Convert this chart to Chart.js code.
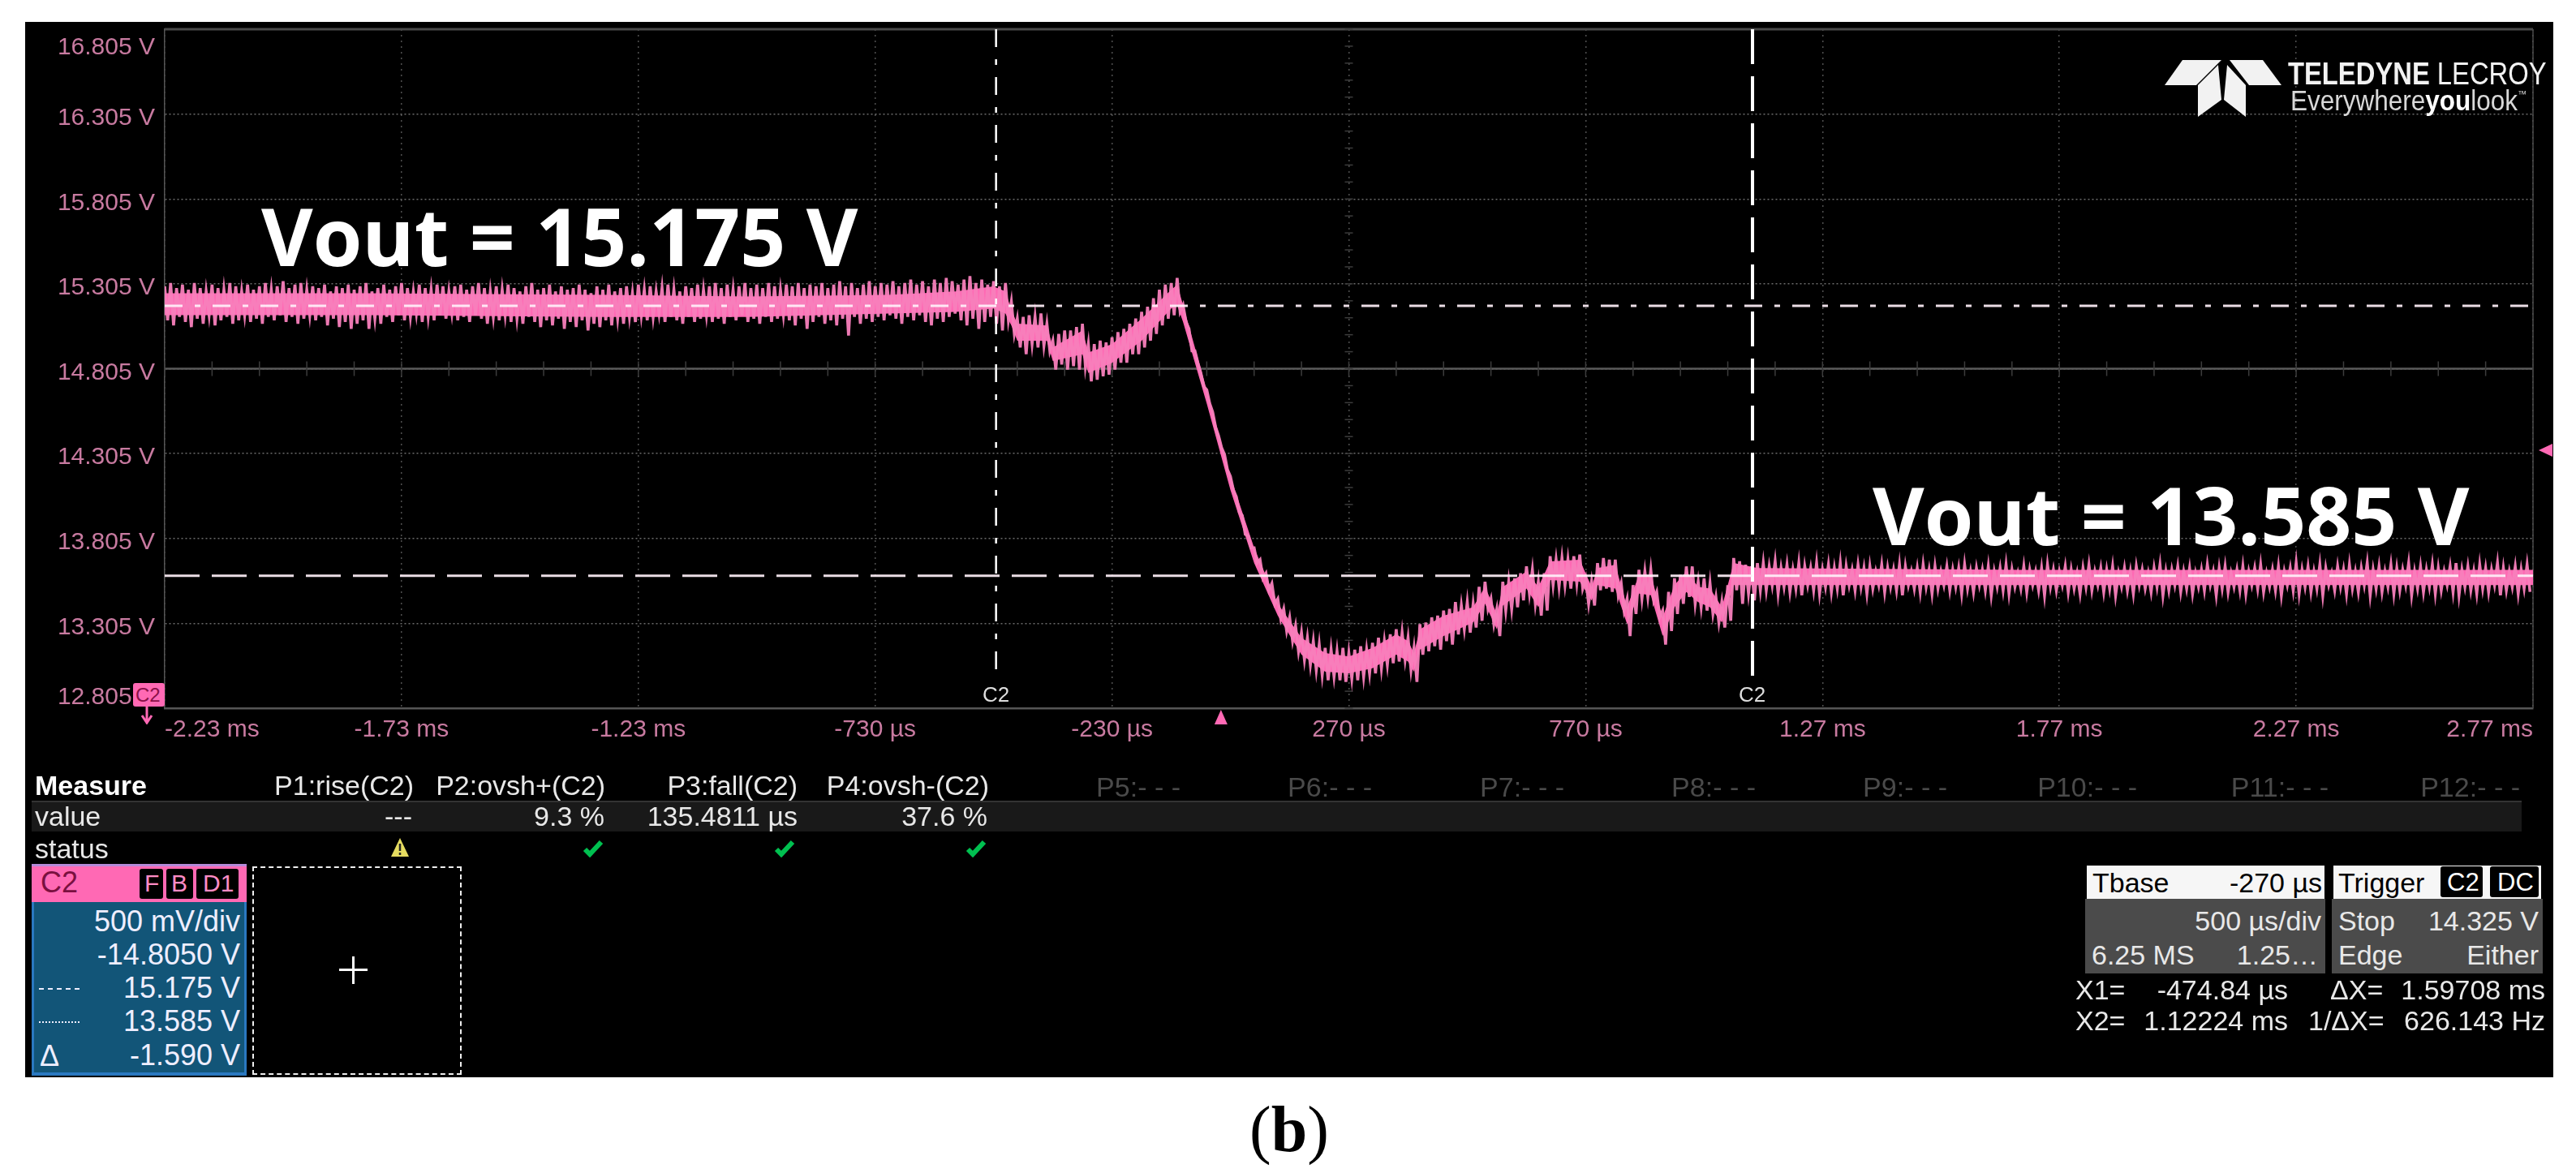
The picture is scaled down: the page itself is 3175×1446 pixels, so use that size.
<!DOCTYPE html>
<html><head><meta charset="utf-8">
<script src="https://cdn.jsdelivr.net/npm/chart.js@4"></script>
<style>
html,body{margin:0;padding:0;background:#fff;width:3175px;height:1446px;overflow:hidden}
#panel{position:absolute;left:31px;top:27px;width:3116px;height:1301px;background:#000}
#c{position:absolute;left:0;top:0}
.b{position:absolute}
.t{position:absolute;transform:translateY(-50%);line-height:1;white-space:pre;font-family:'Liberation Sans',sans-serif;font-size:34px;color:#e8e8e8}
.dim{color:#4a4a4a}
.big{font-family:'Open Sans',sans-serif;font-weight:700;font-size:98px;color:#fff}
.w{color:#000;font-size:34px}
.ch{font-size:36px;color:#eef}
.r{font-size:34px}
</style></head><body>
<div id="panel"></div>
<canvas id="c" width="3175" height="1446"></canvas>

<!-- annotations -->
<div class="t big" style="left:322px;top:290px">Vout = 15.175 V</div>
<div class="t big" style="left:2308px;top:634px">Vout = 13.585 V</div>

<!-- logo -->
<svg class="b" style="left:2660px;top:70px" width="160" height="80" viewBox="2660 70 160 80">
<g fill="#f2f2f2"><polygon points="2690,74 2738,74 2707,105 2668,105"/><polygon points="2748,74 2789,74 2812,105 2772,105"/><polygon points="2734,80 2738,123 2709,144 2709,105"/><polygon points="2745,80 2768,105 2768,144 2741,123"/></g></svg>
<div class="t" style="left:2820px;top:90px;font-size:39px;color:#f2f2f2;transform:translateY(-50%) scaleX(.84);transform-origin:left center"><b>TELEDYNE</b> LECROY</div>
<div class="t" style="left:2823px;top:123px;font-size:35px;color:#d8d8d8;transform:translateY(-50%) scaleX(.9);transform-origin:left center">Everywhere<b style="color:#fff">you</b>look<span style="font-size:12px;vertical-align:16px">™</span></div>

<!-- cursor tags -->
<div class="t" style="left:1211px;top:856px;font-size:26px;color:#ddd">C2</div>
<div class="t" style="left:2143px;top:856px;font-size:26px;color:#ddd">C2</div>
<div class="b" style="left:164px;top:842px;width:39px;height:29px;background:#ff69b4;border-radius:3px"></div>
<div class="t" style="left:167px;top:857px;font-size:24px;color:#8a1048">C2</div>
<svg class="b" style="left:172px;top:871px" width="18" height="22"><path d="M9 0V18M3 11L9 20L15 11" stroke="#ff69b4" stroke-width="3" fill="none"/></svg>

<!-- measure table -->
<div class="b" style="left:39px;top:987px;width:3069px;height:38px;background:#191919;border-top:2px solid #333;box-sizing:border-box"></div>
<div class="t" style="left:43px;top:968px;font-weight:700;color:#fff">Measure</div>
<div class="t" style="left:43px;top:1006px">value</div>
<div class="t" style="left:43px;top:1046px">status</div>
<div class="t" style="right:2665px;top:968px">P1:rise(C2)</div>
<div class="t" style="right:2429px;top:968px">P2:ovsh+(C2)</div>
<div class="t" style="right:2192px;top:968px">P3:fall(C2)</div>
<div class="t" style="right:1956px;top:968px">P4:ovsh-(C2)</div>
<div class="t dim" style="right:1720px;top:970px">P5:- - -</div>
<div class="t dim" style="right:1484px;top:970px">P6:- - -</div>
<div class="t dim" style="right:1247px;top:970px">P7:- - -</div>
<div class="t dim" style="right:1011px;top:970px">P8:- - -</div>
<div class="t dim" style="right:775px;top:970px">P9:- - -</div>
<div class="t dim" style="right:541px;top:970px">P10:- - -</div>
<div class="t dim" style="right:305px;top:970px">P11:- - -</div>
<div class="t dim" style="right:69px;top:970px">P12:- - -</div>
<div class="t" style="right:2667px;top:1006px">---</div>
<div class="t" style="right:2430px;top:1006px">9.3 %</div>
<div class="t" style="right:2192px;top:1006px">135.4811 µs</div>
<div class="t" style="right:1958px;top:1006px">37.6 %</div>
<svg class="b" style="left:482px;top:1033px" width="22" height="23"><path d="M11 0L22 23H0Z" fill="#e6dc60"/><path d="M11 7V16M11 18V21" stroke="#222" stroke-width="2.5"/></svg>
<svg class="b" style="left:718px;top:1035px" width="26" height="22"><path d="M3 12L9 18L23 3" stroke="#00c050" stroke-width="6" fill="none"/></svg>
<svg class="b" style="left:954px;top:1035px" width="26" height="22"><path d="M3 12L9 18L23 3" stroke="#00c050" stroke-width="6" fill="none"/></svg>
<svg class="b" style="left:1190px;top:1035px" width="26" height="22"><path d="M3 12L9 18L23 3" stroke="#00c050" stroke-width="6" fill="none"/></svg>

<!-- channel box -->
<div class="b" style="left:39px;top:1065px;width:265px;height:261px;background:#125578;box-shadow:inset 0 -4px 0 #2a78c0,inset 3px 0 0 #2a78c0,inset -3px 0 0 #2a78c0"></div>
<div class="b" style="left:39px;top:1065px;width:265px;height:47px;background:#ff69b4;border-top:3px solid #b48ad8;box-sizing:border-box"></div>
<div class="t" style="left:50px;top:1088px;font-size:36px;color:#7a1040">C2</div>
<div class="b" style="left:172px;top:1071px;width:29px;height:37px;background:#000;border-radius:3px"></div>
<div class="b" style="left:205px;top:1071px;width:33px;height:37px;background:#000;border-radius:3px"></div>
<div class="b" style="left:242px;top:1071px;width:52px;height:37px;background:#000;border-radius:3px"></div>
<div class="t" style="left:178px;top:1089px;font-size:30px;color:#ff8cc6">F</div>
<div class="t" style="left:211px;top:1089px;font-size:30px;color:#ff8cc6">B</div>
<div class="t" style="left:250px;top:1089px;font-size:30px;color:#ff8cc6">D1</div>
<div class="t ch" style="right:2879px;top:1136px">500 mV/div</div>
<div class="t ch" style="right:2879px;top:1177px">-14.8050 V</div>
<div class="t ch" style="right:2879px;top:1218px">15.175 V</div>
<div class="t ch" style="right:2879px;top:1259px">13.585 V</div>
<div class="t ch" style="right:2879px;top:1301px">-1.590 V</div>
<div class="b" style="left:48px;top:1218px;width:50px;border-top:2px dashed #eef"></div>
<div class="b" style="left:48px;top:1259px;width:50px;border-top:2px dotted #eef"></div>
<div class="t ch" style="left:49px;top:1302px">Δ</div>

<!-- add-trace box -->
<div class="b" style="left:311px;top:1068px;width:258px;height:257px;border:2px dashed #eee;box-sizing:border-box"></div>
<div class="b" style="left:418px;top:1194px;width:35px;height:3px;background:#fff"></div>
<div class="b" style="left:434px;top:1179px;width:3px;height:34px;background:#fff"></div>

<!-- timebase / trigger -->
<div class="b" style="left:2570px;top:1108px;width:296px;height:92px;background:#4b4b4b"></div>
<div class="b" style="left:2572px;top:1067px;width:293px;height:41px;background:#f6f6f6"></div>
<div class="b" style="left:2874px;top:1108px;width:260px;height:92px;background:#4b4b4b"></div>
<div class="b" style="left:2876px;top:1067px;width:256px;height:41px;background:#f6f6f6"></div>
<div class="b" style="left:3008px;top:1068px;width:52px;height:38px;background:#000;border-radius:3px"></div>
<div class="b" style="left:3069px;top:1068px;width:60px;height:38px;background:#000;border-radius:3px"></div>
<div class="t w" style="left:2579px;top:1088px">Tbase</div>
<div class="t w" style="right:313px;top:1088px">-270 µs</div>
<div class="t w" style="left:2882px;top:1088px">Trigger</div>
<div class="t" style="left:3016px;top:1087px;font-size:31px;color:#fff">C2</div>
<div class="t" style="left:3078px;top:1087px;font-size:31px;color:#fff">DC</div>
<div class="t r" style="right:314px;top:1135px">500 µs/div</div>
<div class="t r" style="left:2882px;top:1135px">Stop</div>
<div class="t r" style="right:46px;top:1135px">14.325 V</div>
<div class="t r" style="left:2578px;top:1177px">6.25 MS</div>
<div class="t r" style="right:318px;top:1177px">1.25…</div>
<div class="t r" style="left:2882px;top:1177px">Edge</div>
<div class="t r" style="right:46px;top:1177px">Either</div>
<div class="t r" style="left:2558px;top:1220px">X1=</div>
<div class="t r" style="right:355px;top:1220px">-474.84 µs</div>
<div class="t r" style="left:2872px;top:1220px">ΔX=</div>
<div class="t r" style="right:38px;top:1220px">1.59708 ms</div>
<div class="t r" style="left:2558px;top:1258px">X2=</div>
<div class="t r" style="right:355px;top:1258px">1.12224 ms</div>
<div class="t r" style="left:2845px;top:1258px">1/ΔX=</div>
<div class="t r" style="right:38px;top:1258px">626.143 Hz</div>

<!-- caption -->
<div class="t" style="left:1540px;top:1392px;font-family:'Liberation Serif',serif;font-size:80px;color:#000">(<b>b</b>)</div>

<script>
// axis
const xAxisMin = -2230, xAxisMax = 2770;
const yAxisMin = 12.805, yAxisMax = 16.805;
const xTickValues = [-2230,-1730,-1230,-730,-230,270,770,1270,1770,2270,2770];
const xTickLabels = ['-2.23 ms','-1.73 ms','-1.23 ms','-730 µs','-230 µs','270 µs','770 µs','1.27 ms','1.77 ms','2.27 ms','2.77 ms'];
const yTickValues = [16.805,16.305,15.805,15.305,14.805,14.305,13.805,13.305,12.805];
const yTickLabels = ['16.805 V','16.305 V','15.805 V','15.305 V','14.805 V','14.305 V','13.805 V','13.305 V','12.805 V'];

// cursors (µs / V)
const cursorX1 = -474.84, cursorX2 = 1122.24;
const levelHigh = 15.175, levelLow = 13.585;
const cursorFoot = 12.97;
const triggerTime = 0, triggerLevel = 14.325;
const centreTime = 270, centreLevel = 14.805;

const sampleStart = -2230, sampleStep = 12.5;
const flatLeftHigh = [
15.29,15.31,15.28,15.30,15.27,15.31,15.28,15.26,15.30,15.28,
15.27,15.31,15.29,15.26,15.30,15.27,15.29,15.31,15.27,15.29,
15.32,15.28,15.30,15.31,15.27,15.29,15.28,15.30,15.26,15.29,
15.28,15.30,15.27,15.29,15.31,15.26,15.28,15.30,15.27,15.29,
15.31,15.28,15.26,15.30,15.28,15.27,15.30,15.29,15.26,15.29,
15.30,15.27,15.29,15.31,15.28,15.26,15.29,15.27,15.30,15.28,
15.26,15.29,15.31,15.27,15.28,15.30,15.26,15.29,15.27,15.28,
15.30,15.27,15.25,15.29,15.27,15.30,15.26,15.28,15.29,15.25,
15.30,15.27,15.29,15.26,15.28,15.30,15.27,15.26,15.29,15.28,
15.30,15.27,15.29,15.31,15.28,15.30,15.27,15.29,15.31,15.28,
15.30,15.28,15.31,15.29,15.27,15.30,15.29,15.31,15.28,15.30,
15.29,15.31,15.28,15.30,15.32,15.29,15.31,15.28,15.30,15.32,
15.29,15.31,15.30,15.32,15.29,15.31,15.33,15.30,15.32,15.29,
15.33,15.31,15.34,15.32,15.30,15.33,15.35,15.31,15.33,15.30,
15.32,15.29,15.31];
const flatLeftLow = [
15.09,15.06,15.11,15.08,15.05,15.10,15.07,15.12,15.06,15.09,
15.11,15.07,15.09,15.12,15.08,15.10,15.07,15.11,15.09,15.12,
15.08,15.11,15.07,15.10,15.12,15.09,15.11,15.06,15.10,15.05,
15.08,15.04,15.07,15.09,15.04,15.10,15.07,15.11,15.08,15.12,
15.09,15.11,15.13,15.08,15.11,15.09,15.12,15.10,15.13,15.09,
15.11,15.08,15.12,15.10,15.07,15.11,15.09,15.12,15.08,15.10,
15.07,15.11,15.08,15.05,15.09,15.06,15.10,15.04,15.08,15.05,
15.09,15.03,15.07,15.05,15.09,15.06,15.10,15.07,15.11,15.08,
15.12,15.09,15.11,15.13,15.08,15.11,15.09,15.07,15.11,15.08,
15.10,15.12,15.08,15.10,15.07,15.11,15.09,15.12,15.08,15.10,
15.07,15.11,15.08,15.10,15.12,15.09,15.06,15.10,15.04,15.08,
15.11,15.07,15.09,15.06,15.10,15.00,15.11,15.07,15.10,15.08,
15.11,15.09,15.12,15.10,15.07,15.11,15.09,15.12,15.08,15.06,
15.10,15.08,15.11,15.13,15.09,15.06,15.10,15.04,15.08,15.11,
15.07,15.03,15.09];
const transientHigh = [
15.20,15.10,15.11,15.12,15.11,15.13,15.07,14.97,15.01,15.03,
15.03,15.05,15.07,14.95,14.95,14.97,14.96,14.99,15.02,15.04,
15.07,15.10,15.14,15.17,15.22,15.27,15.30,15.31,15.34,15.18,
15.04,14.91,14.78,14.68,14.55,14.41,14.30,14.17,14.05,13.94,
13.82,13.75,13.68,13.60,13.54,13.45,13.39,13.34,13.29,13.25,
13.22,13.20,13.18,13.16,13.15,13.14,13.16,13.13,13.15,13.17,
13.15,13.19,13.22,13.20,13.24,13.27,13.25,13.22,13.16,13.30,
13.31,13.34,13.35,13.38,13.39,13.43,13.41,13.43,13.42,13.52,
13.55,13.45,13.39,13.55,13.55,13.57,13.60,13.64,13.62,13.55,
13.60,13.70,13.68,13.69,13.68,13.70,13.71,13.57,13.55,13.66,
13.69,13.68,13.68,13.54,13.45,13.53,13.62,13.61,13.62,13.49,
13.38,13.49,13.57,13.59,13.64,13.64,13.55,13.57,13.54,13.46,
13.43,13.53,13.69,13.67,13.65,13.64,13.66];
const transientLow = [
15.01,14.93,14.89,14.95,14.93,14.94,14.91,14.80,14.83,14.80,
14.82,14.80,14.82,14.73,14.74,14.76,14.77,14.80,14.84,14.84,
14.89,14.89,14.93,14.97,15.01,15.06,15.10,15.12,15.14,15.08,
14.91,14.84,14.70,14.60,14.46,14.34,14.21,14.09,13.96,13.83,
13.75,13.66,13.57,13.50,13.42,13.33,13.26,13.20,13.14,13.09,
13.06,13.03,13.00,12.97,12.99,12.97,12.96,12.98,12.97,12.99,
13.01,13.01,13.04,13.06,13.07,13.08,13.09,13.03,12.96,13.12,
13.14,13.17,13.15,13.20,13.18,13.24,13.27,13.25,13.28,13.32,
13.39,13.30,13.23,13.38,13.39,13.40,13.44,13.48,13.42,13.35,
13.38,13.53,13.52,13.53,13.51,13.54,13.51,13.42,13.41,13.50,
13.51,13.49,13.47,13.38,13.23,13.36,13.45,13.46,13.44,13.34,
13.18,13.26,13.36,13.42,13.46,13.42,13.40,13.38,13.36,13.31,
13.28,13.32,13.50,13.42,13.48,13.44,13.50];
const flatRightHigh = [
13.66,13.64,13.67,13.63,13.65,13.62,13.66,13.64,13.63,13.66,
13.62,13.65,13.63,13.66,13.64,13.62,13.65,13.63,13.64,13.61,
13.65,13.63,13.62,13.65,13.64,13.61,13.63,13.65,13.62,13.64,
13.61,13.64,13.62,13.63,13.65,13.61,13.63,13.62,13.64,13.61,
13.63,13.65,13.62,13.60,13.64,13.62,13.61,13.63,13.65,13.62,
13.61,13.64,13.62,13.60,13.63,13.65,13.61,13.63,13.62,13.64,
13.60,13.63,13.61,13.64,13.62,13.60,13.63,13.65,13.61,13.62,
13.64,13.61,13.63,13.60,13.62,13.65,13.61,13.63,13.64,13.60,
13.62,13.64,13.61,13.63,13.65,13.60,13.62,13.64,13.61,13.63,
13.66,13.62,13.64,13.61,13.65,13.63,13.60,13.64,13.62,13.65,
13.61,13.63,13.66,13.62,13.64,13.61,13.65,13.63,13.62,13.66,
13.61,13.64,13.62,13.65,13.63,13.61,13.64,13.66,13.62,13.64,
13.61,13.65,13.63,13.62,13.66,13.63,13.61,13.64,13.62,13.65];
const flatRightLow = [
13.50,13.53,13.48,13.52,13.49,13.51,13.47,13.53,13.50,13.48,
13.52,13.49,13.51,13.47,13.53,13.50,13.52,13.48,13.51,13.53,
13.49,13.52,13.50,13.47,13.53,13.51,13.49,13.52,13.48,13.51,
13.53,13.50,13.52,13.48,13.51,13.49,13.53,13.50,13.47,13.52,
13.50,13.48,13.52,13.51,13.49,13.53,13.50,13.47,13.52,13.50,
13.53,13.49,13.51,13.48,13.52,13.50,13.53,13.49,13.51,13.47,
13.52,13.50,13.48,13.53,13.51,13.49,13.52,13.47,13.50,13.53,
13.49,13.51,13.48,13.52,13.50,13.53,13.47,13.51,13.49,13.52,
13.50,13.48,13.53,13.51,13.49,13.52,13.50,13.47,13.53,13.50,
13.48,13.52,13.49,13.51,13.47,13.53,13.50,13.52,13.48,13.51,
13.49,13.53,13.47,13.51,13.49,13.52,13.48,13.50,13.53,13.47,
13.51,13.49,13.52,13.48,13.50,13.53,13.49,13.47,13.52,13.50,
13.48,13.51,13.49,13.53,13.47,13.50,13.52,13.48,13.51,13.49];

// solid centre of the noise band
const coreTime = [-2230,-1800,-1300,-1000,-700,-560,-480,-455,-442.5,-430,-367.5,-355,-292.5,-280,-230,-167.5,-105,-92.5,-80,-30,20,70,120,170,220,270,320,370,395,407.5,420,470,532.5,557.5,582.5,595,645,670,695,757.5,782.5,795,832.5,857.5,882.5,907.5,932.5,957.5,982.5,1007.5,1032.5,1057.5,1082.5,1132.5,1700,2300,2770];
const coreHigh = [15.25,15.25,15.24,15.23,15.24,15.26,15.29,15.26,15.15,15.07,15.06,14.93,15.03,14.90,14.95,15.10,15.27,15.30,15.18,14.68,14.17,13.75,13.42,13.22,13.13,13.11,13.16,13.24,13.20,13.13,13.27,13.35,13.40,13.52,13.36,13.52,13.61,13.52,13.67,13.68,13.52,13.63,13.65,13.40,13.59,13.59,13.34,13.53,13.61,13.52,13.51,13.40,13.66,13.63,13.62,13.62,13.62];
const coreLow = [15.12,15.12,15.11,15.11,15.13,15.14,15.16,15.13,15.06,14.97,14.97,14.85,14.89,14.78,14.84,14.97,15.16,15.18,15.08,14.60,14.09,13.66,13.35,13.12,13.02,13.01,13.04,13.12,13.08,13.02,13.15,13.23,13.31,13.42,13.27,13.41,13.51,13.40,13.56,13.55,13.44,13.53,13.51,13.30,13.48,13.47,13.23,13.40,13.49,13.43,13.40,13.31,13.53,13.53,13.53,13.53,13.53];

const traceHigh = flatLeftHigh.concat(transientHigh, flatRightHigh);
const traceLow = flatLeftLow.concat(transientLow, flatRightLow);
const tracePoints = [];
traceHigh.forEach((v,i)=>{
  const t = sampleStart + i*sampleStep;
  tracePoints.push({x:t,y:v});
  tracePoints.push({x:t+sampleStep/2,y:traceLow[i]});
});
const pts = (xs,ys)=>xs.map((x,i)=>({x,y:ys[i]}));

const scopePlugin = {
  id:'scope',
  beforeDatasetsDraw(chart){
    const {ctx,chartArea:a,scales:{x,y}} = chart;
    ctx.save();
    ctx.strokeStyle='#4a4a4a';ctx.lineWidth=3;
    ctx.beginPath();ctx.moveTo(a.left,a.top);ctx.lineTo(a.right,a.top);ctx.stroke();
    ctx.lineWidth=1.5;
    ctx.beginPath();ctx.moveTo(a.right,a.top);ctx.lineTo(a.right,a.bottom);ctx.stroke();
    const cy=y.getPixelForValue(centreLevel), cx=x.getPixelForValue(centreTime);
    ctx.strokeStyle='#5a5a5a';ctx.lineWidth=2.5;
    ctx.beginPath();ctx.moveTo(a.left,cy);ctx.lineTo(a.right,cy);ctx.stroke();
    ctx.strokeStyle='#3c3c3c';ctx.lineWidth=1.5;
    for(let t=xAxisMin;t<=xAxisMax;t+=100){const p=x.getPixelForValue(t);ctx.beginPath();ctx.moveTo(p,cy-9);ctx.lineTo(p,cy+9);ctx.stroke();}
    for(let v=yAxisMin;v<=yAxisMax;v+=0.1){const p=y.getPixelForValue(v);ctx.beginPath();ctx.moveTo(cx-5,p);ctx.lineTo(cx+5,p);ctx.stroke();}
    ctx.restore();
  },
  afterDraw(chart){
    const {ctx,chartArea:a,scales:{x,y}} = chart;
    ctx.save();
    ctx.fillStyle='#ff69b4';
    const tx=x.getPixelForValue(triggerTime), ty=y.getPixelForValue(triggerLevel);
    ctx.beginPath();ctx.moveTo(tx,a.bottom+2);ctx.lineTo(tx-8,a.bottom+20);ctx.lineTo(tx+8,a.bottom+20);ctx.closePath();ctx.fill();
    ctx.beginPath();ctx.moveTo(a.right+7,ty);ctx.lineTo(a.right+24,ty-8);ctx.lineTo(a.right+24,ty+8);ctx.closePath();ctx.fill();
    ctx.restore();
  }
};

const cursorStyle = {type:'line',pointRadius:0,borderColor:'#fff',fill:false,tension:0,order:0};
new Chart(document.getElementById('c'),{
  type:'line',
  plugins:[scopePlugin],
  data:{datasets:[
    {...cursorStyle,label:'Level 15.175 V',data:pts([xAxisMin,xAxisMax],[levelHigh,levelHigh]),borderWidth:3,borderDash:[22,15,7,15],borderColor:'rgba(255,240,248,0.92)'},
    {...cursorStyle,label:'Level 13.585 V',data:pts([xAxisMin,xAxisMax],[levelLow,levelLow]),borderWidth:3,borderDash:[43,15],borderColor:'rgba(255,240,248,0.92)'},
    {...cursorStyle,label:'X1',data:pts([cursorX1,cursorX1],[yAxisMax,cursorFoot]),borderWidth:2.5,borderDash:[22,15,7,15]},
    {...cursorStyle,label:'X2',data:pts([cursorX2,cursorX2],[yAxisMax,cursorFoot]),borderWidth:4,borderDash:[43,15]},
    {label:'C2 spikes',data:tracePoints,borderColor:'rgba(248,128,188,0.95)',borderWidth:3.6,pointRadius:0,tension:0,fill:false,order:1,borderJoinStyle:'miter'},
    {label:'C2 core low',data:pts(coreTime,coreLow),borderWidth:0,borderColor:'rgba(0,0,0,0)',pointRadius:0,tension:0,fill:false,order:2},
    {label:'C2 core high',data:pts(coreTime,coreHigh),borderWidth:0,borderColor:'rgba(0,0,0,0)',backgroundColor:'#ff69b4',pointRadius:0,tension:0,fill:'-1',order:2}
  ]},
  options:{
    responsive:false,animation:false,devicePixelRatio:1,
    layout:{padding:{left:31,top:36,right:53,bottom:493}},
    plugins:{legend:{display:false},title:{display:false},tooltip:{enabled:false}},
    events:[],
    scales:{
      x:{type:'linear',min:xAxisMin,max:xAxisMax,
        afterBuildTicks:s=>{s.ticks=xTickValues.map(value=>({value}));},
        afterFit:s=>{s.height=80;s.paddingLeft=0;s.paddingRight=0;},
        grid:{color:'#505050',lineWidth:1.5,drawTicks:false},
        border:{color:'#555',width:2.5,dash:[2,5]},
        ticks:{align:'inner',autoSkip:false,maxRotation:0,padding:9,color:'#c87aa0',
          font:{family:"'Liberation Sans'",size:30},
          callback:(v,i)=>xTickLabels[i]}},
      y:{type:'linear',min:yAxisMin,max:yAxisMax,
        afterBuildTicks:s=>{s.ticks=yTickValues.slice().reverse().map(value=>({value}));},
        afterFit:s=>{s.width=172;s.paddingTop=0;s.paddingBottom=0;},
        grid:{color:'#6a6a6a',lineWidth:1.5,drawTicks:false},
        border:{color:'#555',width:1.5,dash:[2,3]},
        ticks:{autoSkip:false,padding:12,labelOffset:5,color:'#c87aa0',
          font:{family:"'Liberation Sans'",size:30,lineHeight:1.2},
          callback:v=>{
            const i=yTickValues.findIndex(u=>Math.abs(u-v)<1e-6);
            if(i===0) return ['',yTickLabels[i]];
            if(i===yTickValues.length-1) return [yTickLabels[i],''];
            return yTickLabels[i];
          }}}
    }
  }
});
</script>
</body></html>
